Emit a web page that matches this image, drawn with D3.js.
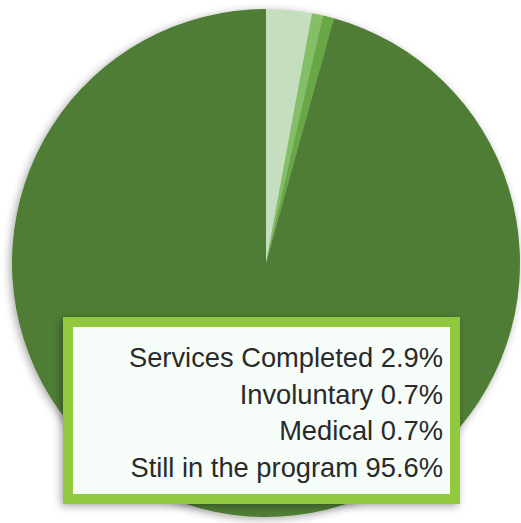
<!DOCTYPE html>
<html lang="en">
<head>
  <meta charset="UTF-8">
  <title>Program status</title>
  <script src="https://d3js.org/d3.v7.min.js"></script>
  <style>
    body { margin: 0; background: #fff; font-family: "Liberation Sans", Arial, sans-serif; }
  </style>
</head>
<body>
  <div id="chart"></div>
  <script>
    const categories = ["Services Completed", "Involuntary", "Medical", "Still in the program"];
    const shares = [2.9, 0.7, 0.7, 95.6];
    const colors = ["#c6dec0", "#84bf65", "#67a745", "#507d34"];

    const width = 521, height = 523;
    const cx = 266, cy = 263, radius = 254;

    const svg = d3.select("#chart").append("svg")
      .attr("width", width)
      .attr("height", height);

    const defs = svg.append("defs");
    const shadow = defs.append("filter").attr("id", "shadow")
      .attr("x", "-10%").attr("y", "-10%").attr("width", "120%").attr("height", "120%");
    shadow.append("feDropShadow")
      .attr("dx", -2).attr("dy", 2).attr("stdDeviation", 4)
      .attr("flood-color", "#000").attr("flood-opacity", 0.35);

    const data = categories.map((c, i) => ({ name: c, value: shares[i], color: colors[i] }));

    const pie = d3.pie().sort(null).value(d => d.value);
    const arc = d3.arc().innerRadius(0).outerRadius(radius);

    const g = svg.append("g")
      .attr("transform", `translate(${cx},${cy})`)
      .attr("filter", "url(#shadow)");

    g.selectAll("path")
      .data(pie(data))
      .enter()
      .append("path")
      .attr("d", arc)
      .attr("fill", d => d.data.color);

    // legend box
    const box = { x: 68, y: 322, w: 387, h: 177 };
    svg.append("rect")
      .attr("x", box.x).attr("y", box.y)
      .attr("width", box.w).attr("height", box.h)
      .attr("fill", "#f6fdf8")
      .attr("stroke", "#92c83e")
      .attr("stroke-width", 10)
      .attr("filter", "url(#shadow)");

    svg.selectAll(".label")
      .data(data)
      .enter()
      .append("text")
      .attr("class", "label")
      .attr("x", 443)
      .attr("y", (d, i) => 367 + i * 36.5)
      .attr("text-anchor", "end")
      .style("font-size", "27.3px")
      .style("fill", "#2a2a2a")
      .text(d => `${d.name} ${d.value}%`);
  </script>
</body>
</html>
